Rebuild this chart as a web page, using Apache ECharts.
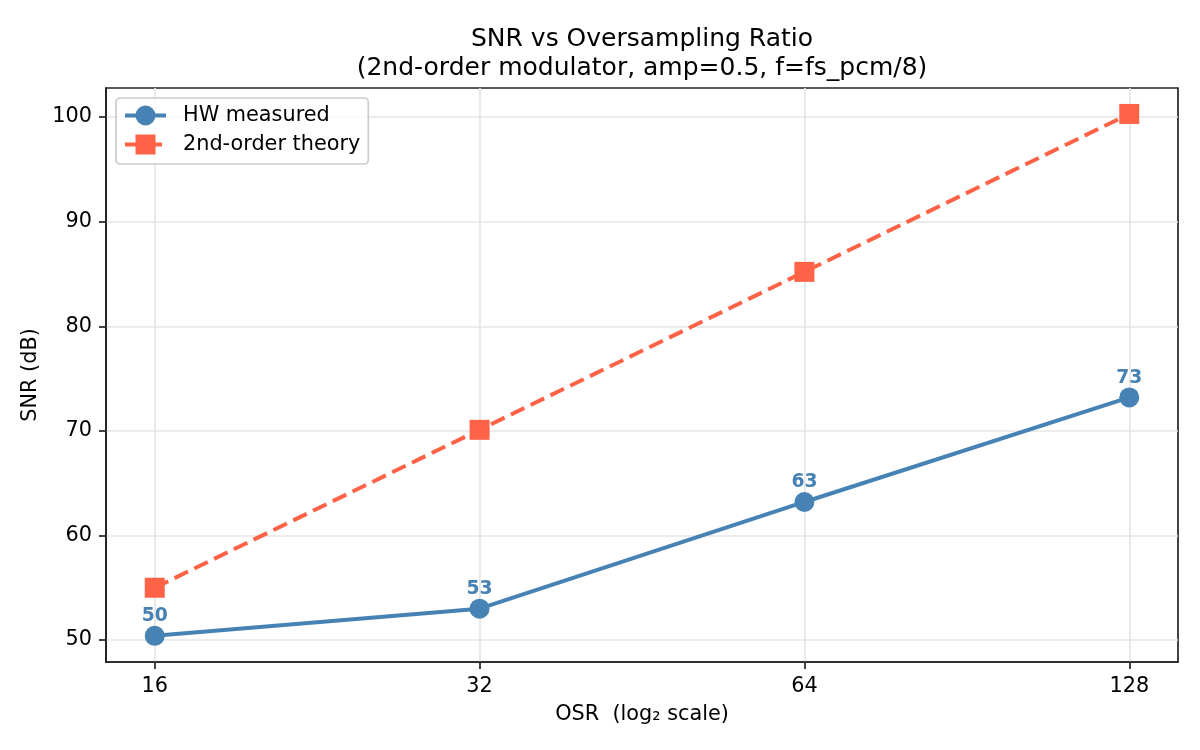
<!DOCTYPE html>
<html lang="en">
<head>
    <meta charset="UTF-8">
    <title>SNR vs OSR</title>
    <style>
        html, body { margin: 0; padding: 0; background: #fff; }
    </style>
</head>
<body>
    <div id="main" style="width:1200px;height:750px;"></div>

    <script src="https://cdn.jsdelivr.net/npm/echarts@6/dist/echarts.min.js"></script>
    <script>
    // data
    var osr = [16, 32, 64, 128];
    var snrMeasured = [50.4, 53.0, 63.2, 73.2];
    var snrTheory = [55.0, 70.1, 85.2, 100.3];
    var xTicks = [16, 32, 64, 128];
    var yTicks = [50, 60, 70, 80, 90, 100];

    var font = 'DejaVu Sans';
    var blue = '#4682B4';
    var red = '#FF6347';

    function pairs(ys) {
        return osr.map(function (x, i) { return [Math.log2(x), ys[i]]; });
    }
    var xTickPos = xTicks.map(function (v) { return Math.log2(v); });

    var chart = echarts.init(document.getElementById('main'));

    chart.setOption({
        backgroundColor: '#fff',
        animation: false,
        title: {
            text: 'SNR vs Oversampling Ratio\n(2nd-order modulator, amp=0.5, f=fs_pcm/8)',
            left: 642,
            top: 25,
            padding: 0,
            textAlign: 'center',
            textStyle: {
                fontFamily: font,
                fontSize: 25,
                fontWeight: 'normal',
                color: '#000',
                lineHeight: 29
            }
        },
        grid: {
            left: 106,
            right: 22,
            top: 88,
            bottom: 88,
            outerBoundsMode: 'none',
            show: true,
            borderColor: '#222',
            borderWidth: 1.7,
            backgroundColor: 'transparent'
        },
        legend: {
            orient: 'vertical',
            left: 116,
            top: 98,
            padding: [5, 8, 7, 7],
            itemGap: 4,
            itemWidth: 41,
            itemHeight: 25,
            backgroundColor: 'rgba(255,255,255,0.8)',
            borderColor: '#cccccc',
            borderWidth: 1.7,
            borderRadius: 4,
            lineStyle: { width: 4 },
            textStyle: {
                fontFamily: font,
                fontSize: 20.8,
                color: '#000',
                lineHeight: 25,
                padding: [0, 0, 0, 12]
            },
            data: ['HW measured', '2nd-order theory']
        },
        xAxis: {
            type: 'value',
            min: 3.85,
            max: 7.15,
            name: 'OSR  (log\u2082 scale)',
            nameLocation: 'middle',
            nameGap: 42,
            nameTextStyle: { fontFamily: font, fontSize: 20.8, color: '#000' },
            axisLine: { show: true, onZero: false, lineStyle: { color: '#222', width: 1.7 } },
            axisTick: {
                show: true, inside: false, length: 7, customValues: xTickPos,
                lineStyle: { color: '#222', width: 1.7 }
            },
            axisLabel: {
                customValues: xTickPos,
                margin: 14,
                fontFamily: font,
                fontSize: 20.8,
                color: '#000',
                formatter: function (v) { return String(Math.round(Math.pow(2, v))); }
            },
            splitLine: { show: true, lineStyle: { color: '#e6e6e6', width: 1.7 } }
        },
        yAxis: {
            type: 'value',
            min: 47.9,
            max: 102.78,
            name: 'SNR (dB)',
            nameLocation: 'middle',
            nameGap: 64,
            nameTextStyle: { fontFamily: font, fontSize: 20.8, color: '#000' },
            axisLine: { show: true, lineStyle: { color: '#222', width: 1.7 } },
            axisTick: {
                show: true, inside: false, length: 7, customValues: yTicks,
                lineStyle: { color: '#222', width: 1.7 }
            },
            axisLabel: {
                customValues: yTicks,
                margin: 14,
                fontFamily: font,
                fontSize: 20.8,
                color: '#000'
            },
            splitLine: { show: true, lineStyle: { color: '#e6e6e6', width: 1.7 } }
        },
        series: [
            {
                name: 'HW measured',
                type: 'line',
                data: pairs(snrMeasured),
                symbol: 'circle',
                symbolSize: 20,
                z: 3,
                itemStyle: { color: blue },
                lineStyle: { color: blue, width: 4 },
                label: {
                    show: true,
                    position: 'top',
                    distance: 0,
                    fontFamily: font,
                    fontSize: 18.75,
                    fontWeight: 'bold',
                    color: blue,
                    formatter: function (p) { return String(Math.round(p.value[1])); }
                }
            },
            {
                name: '2nd-order theory',
                type: 'line',
                data: pairs(snrTheory),
                symbol: 'rect',
                symbolSize: 20,
                z: 4,
                itemStyle: { color: red },
                lineStyle: { color: red, width: 4, type: [15, 7] }
            }
        ]
    });
    </script>
</body>
</html>
